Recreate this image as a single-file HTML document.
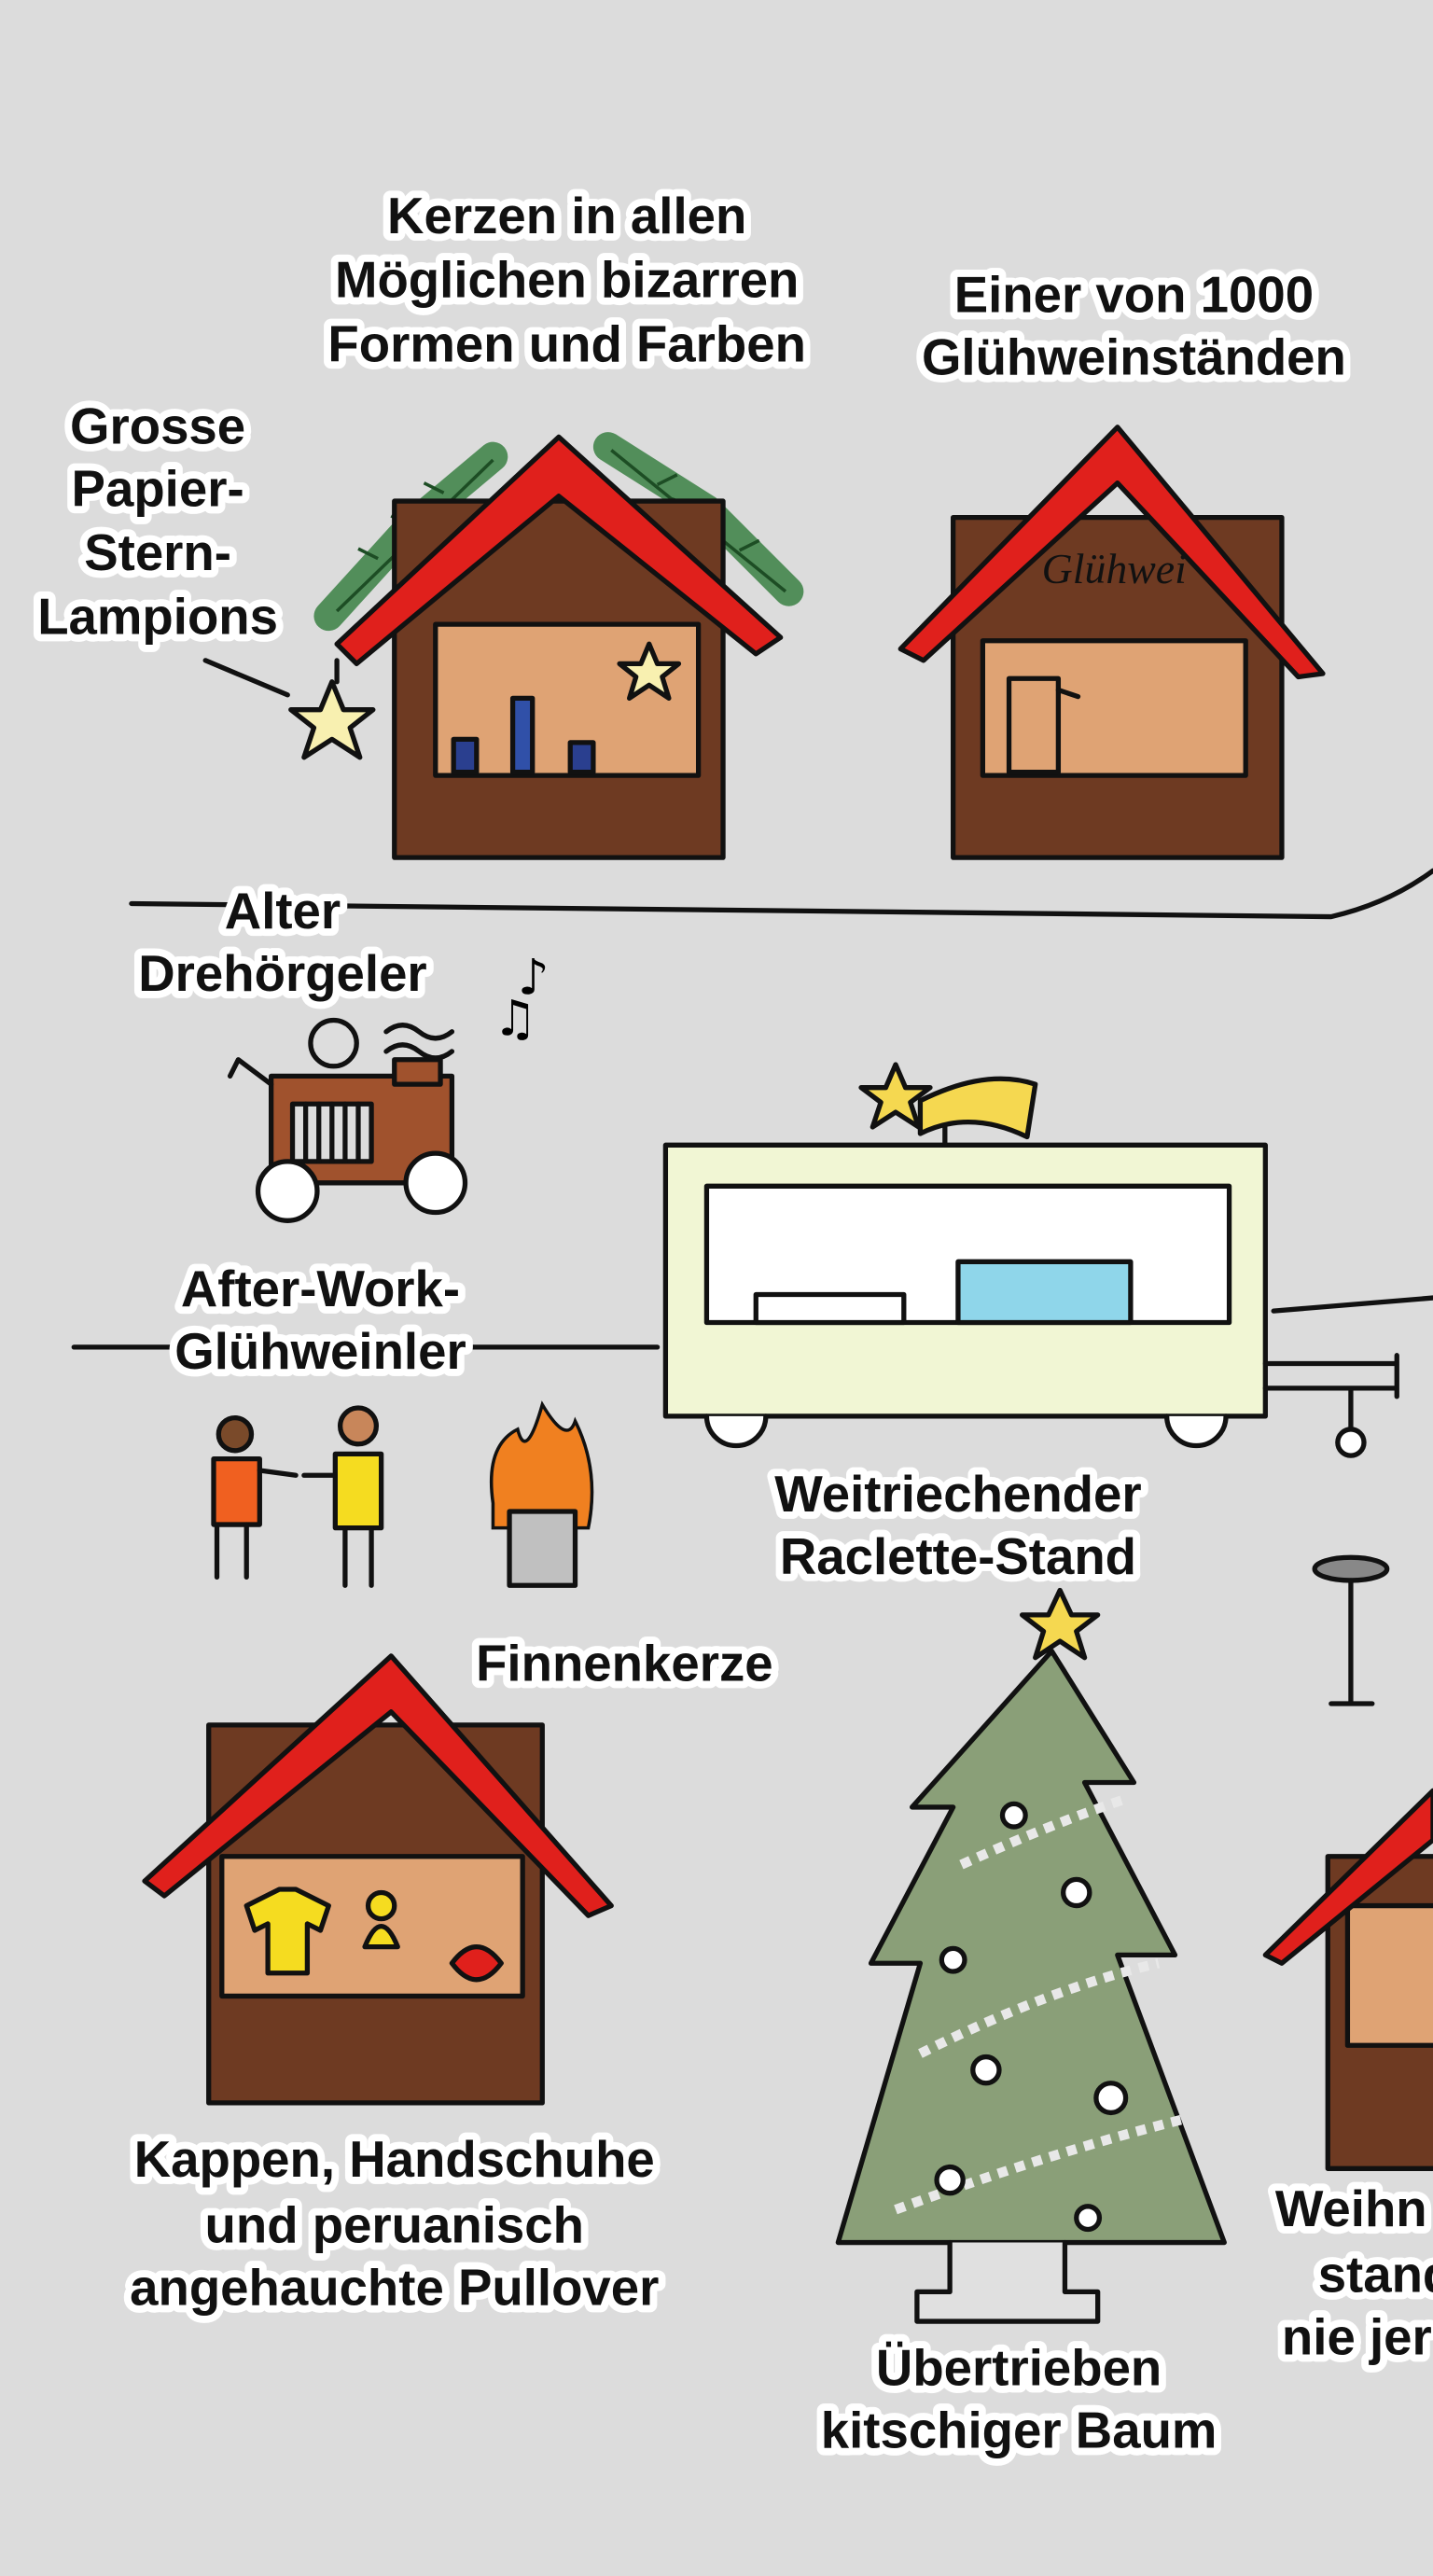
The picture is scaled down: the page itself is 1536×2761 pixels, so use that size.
<!DOCTYPE html>
<html><head><meta charset="utf-8"><style>
html,body{margin:0;padding:0;background:#dcdcdc;}
svg{display:block;}
.t{font-family:"Liberation Sans","DejaVu Sans",sans-serif;font-weight:bold;font-size:31px;fill:#111;text-anchor:middle;stroke:#fff;stroke-width:9px;paint-order:stroke;stroke-linejoin:round;}
.o{stroke:#111;stroke-width:3;stroke-linejoin:round;stroke-linecap:round;}
</style></head><body>
<svg width="1536" height="2761" viewBox="0 0 872 1568" preserveAspectRatio="none" xmlns="http://www.w3.org/2000/svg">
<rect width="872" height="1568" fill="#dcdcdc"/>
<!-- ground lines -->
<path class="o" d="M80 550 L810 558 Q845 550 872 530" fill="none" stroke-width="2.5"/>
<path class="o" d="M45 820 L400 820" fill="none" stroke-width="2.5"/>
<path class="o" d="M775 798 L872 790" fill="none" stroke-width="2.5"/>
<!-- House 1 -->
<path d="M200 375 L250 320 L300 278 M370 272 L430 310 L480 360" stroke="#2f7a3a" stroke-width="18" fill="none" opacity="0.8" stroke-linecap="round"/>
<g stroke="#1d4d24" stroke-width="2" fill="none">
<path d="M205 372 L300 280 M230 340 l-12 -6 M250 320 l-12 -6 M270 300 l-12 -6 M240 330 l6 12 M262 310 l6 12"/>
<path d="M372 274 L478 360 M400 295 l12 -6 M425 315 l12 -6 M450 335 l12 -6 M410 303 l-4 12 M440 328 l-4 12"/>
</g>
<rect class="o" x="240" y="305" width="200" height="217" fill="#6e3a22"/>
<rect class="o" x="265" y="380" width="160" height="92" fill="#dfa374"/>
<path class="o" d="M205 392 L340 266 L475 388 L460 398 L340 302 L217 404 Z" fill="#e0201c"/>
<rect class="o" x="276" y="450" width="14" height="20" fill="#2a3f8f"/>
<rect class="o" x="312" y="425" width="12" height="45" fill="#3050a8"/>
<rect class="o" x="347" y="452" width="14" height="18" fill="#2a3f8f"/>
<path class="o" d="M395 392 l5 12 13 0 -10 8 4 13 -12 -8 -12 8 4 -13 -10 -8 13 0z" fill="#f8f0b0"/>
<path class="o" d="M205 402 L205 415" fill="none"/>
<path class="o" d="M202 415 l7 17 18 0 -14 11 6 18 -17 -11 -17 11 6 -18 -14 -11 18 0z" fill="#f8f0b0"/>
<path class="o" d="M125 402 L175 423" stroke-width="4" fill="none"/>
<!-- House 2 -->
<rect class="o" x="580" y="315" width="200" height="207" fill="#6e3a22"/>
<rect class="o" x="598" y="390" width="160" height="82" fill="#dfa374"/>
<rect class="o" x="614" y="413" width="30" height="57" fill="#dfa374"/>
<path class="o" d="M644 420 l12 4" fill="none"/>
<path class="o" d="M548 395 L680 260 L805 410 L790 412 L680 294 L562 402 Z" fill="#e0201c"/>
<text x="678" y="355" font-family="Liberation Serif,serif" font-style="italic" font-size="26" fill="#111" text-anchor="middle">Glühwei</text>
<!-- Organ -->
<circle class="o" cx="203" cy="635" r="14" fill="#ddd"/>
<rect class="o" x="165" y="655" width="110" height="65" fill="#a0522d"/>
<rect class="o" x="240" y="645" width="28" height="15" fill="#a0522d"/>
<rect class="o" x="178" y="672" width="48" height="35" fill="#ddd"/>
<path class="o" d="M186 672v35M194 672v35M202 672v35M210 672v35M218 672v35" fill="none" stroke-width="2"/>
<path class="o" d="M165 660 L145 645 L140 655" fill="none"/>
<circle class="o" cx="175" cy="725" r="18" fill="#fff"/><circle class="o" cx="265" cy="720" r="18" fill="#fff"/>
<path class="o" d="M235 628 q10 -8 20 0 t20 0 M235 640 q10 -8 20 0 t20 0" fill="none" stroke-width="2"/>
<text x="315" y="605" font-size="30" font-family="DejaVu Sans">♪</text><text x="300" y="630" font-size="30" font-family="DejaVu Sans">♫</text>
<!-- Raclette trailer -->
<rect class="o" x="405" y="697" width="365" height="165" fill="#f1f6d4"/>
<rect class="o" x="430" y="722" width="318" height="83" fill="#fff"/>
<rect class="o" x="583" y="768" width="105" height="37" fill="#8fd6ea"/>
<rect class="o" x="460" y="788" width="90" height="17" fill="#fff"/>
<path class="o" d="M770 830 L850 830 M770 845 L850 845 M850 825 v25 M822 845 v25" fill="none"/>
<circle class="o" cx="822" cy="878" r="8" fill="#fff"/>
<path class="o" d="M430 862 a18 18 0 0 0 36 0 M710 862 a18 18 0 0 0 36 0" fill="#fff"/>
<path class="o" d="M575 697 v-20" fill="none"/>
<path class="o" d="M560 670 Q600 650 630 660 L625 692 Q590 675 560 690 Z" fill="#f5d850"/>
<path class="o" d="M545 648 l6 14 15 0 -12 9 5 15 -14 -9 -14 9 5 -15 -12 -9 15 0z" fill="#f5d850"/>
<!-- People -->
<circle class="o" cx="143" cy="873" r="10" fill="#7a4a2a"/>
<path class="o" d="M130 888 h28 v40 h-28z" fill="#f06020"/>
<path class="o" d="M132 928 v32 M150 928 v32" stroke="#60c0d8" stroke-width="8" fill="none"/>
<path class="o" d="M158 895 L180 898" fill="none"/>
<circle class="o" cx="218" cy="868" r="11" fill="#c8865a"/>
<path class="o" d="M204 885 h28 v45 h-28z" fill="#f5dc20"/>
<path class="o" d="M210 930 v35 M226 930 v35" stroke="#60c0d8" stroke-width="8" fill="none"/>
<path class="o" d="M204 898 L185 898" fill="none"/>
<!-- Fire -->
<path d="M300 915 Q295 880 315 870 Q320 890 330 855 Q345 880 350 865 Q365 895 358 930 L300 930Z" fill="#f08020" stroke="#111" stroke-width="2"/>
<rect class="o" x="310" y="920" width="40" height="45" fill="#c0c0c0"/>
<!-- House 3 -->
<rect class="o" x="127" y="1050" width="203" height="230" fill="#6e3a22"/>
<rect class="o" x="135" y="1130" width="183" height="85" fill="#dfa374"/>
<path class="o" d="M150 1160 l20 -10 h10 l20 10 -5 15 -8 -4 v30 h-24 v-30 l-8 4z" fill="#f5dc20"/>
<circle class="o" cx="232" cy="1160" r="8" fill="#f5dc20"/><path class="o" d="M222 1185 q10 -25 20 0 z" fill="#f5dc20"/>
<path class="o" d="M275 1195 q15 -20 30 0 q-15 20 -30 0z" fill="#e0201c"/>
<path class="o" d="M88 1145 L238 1008 L372 1160 L358 1166 L238 1042 L100 1154 Z" fill="#e0201c"/>
<!-- Tree -->
<path class="o" d="M640 1005 L690 1085 L660 1085 L715 1190 L680 1190 L745 1365 L510 1365 L560 1195 L530 1195 L580 1100 L555 1100 Z" fill="#8a9f78"/>
<path d="M585 1135 Q640 1110 685 1095 M560 1250 Q640 1210 705 1195 M545 1345 Q640 1310 720 1290" stroke="#e8e8e8" stroke-width="6" fill="none" stroke-dasharray="6 5"/>
<g class="o" fill="#fff" stroke-width="2.5"><circle cx="617" cy="1105" r="7"/><circle cx="655" cy="1152" r="8"/><circle cx="580" cy="1193" r="7"/><circle cx="600" cy="1260" r="8"/><circle cx="676" cy="1277" r="9"/><circle cx="578" cy="1327" r="8"/><circle cx="662" cy="1350" r="7"/></g>
<path class="o" d="M578 1365 v30 h-20 v18 h110 v-18 h-20 v-30" fill="#e0e0e0"/>
<path class="o" d="M645 968 l7 15 16 0 -13 10 5 16 -15 -10 -15 10 5 -16 -13 -10 16 0z" fill="#f5d850"/>
<!-- Table -->
<ellipse class="o" cx="822" cy="955" rx="22" ry="7" fill="#888"/>
<path class="o" d="M822 962 v75 M810 1037 h25" fill="none"/>
<!-- House 4 partial -->
<rect class="o" x="808" y="1130" width="70" height="190" fill="#6e3a22"/>
<rect class="o" x="820" y="1160" width="60" height="85" fill="#dfa374"/>
<path class="o" d="M770 1190 L872 1090 L872 1120 L780 1195Z" fill="#e0201c"/>
<!-- Labels -->
<g class="t">
<text x="345" y="142">Kerzen in allen</text><text x="345" y="181">Möglichen bizarren</text><text x="345" y="220">Formen und Farben</text>
<text x="690" y="190">Einer von 1000</text><text x="690" y="228">Glühweinständen</text>
<text x="96" y="270">Grosse</text><text x="96" y="308">Papier-</text><text x="96" y="347">Stern-</text><text x="96" y="386">Lampions</text>
<text x="172" y="565">Alter</text><text x="172" y="603">Drehörgeler</text>
<text x="195" y="795">After-Work-</text><text x="195" y="833">Glühweinler</text>
<text x="583" y="920">Weitriechender</text><text x="583" y="958">Raclette-Stand</text>
<text x="380" y="1023">Finnenkerze</text>
<text x="240" y="1325">Kappen, Handschuhe</text><text x="240" y="1365">und peruanisch</text><text x="240" y="1403">angehauchte Pullover</text>
<text x="620" y="1452">Übertrieben</text><text x="620" y="1490">kitschiger Baum</text>
<text x="776" y="1355" style="text-anchor:start">Weihn</text><text x="802" y="1395" style="text-anchor:start">stand</text><text x="780" y="1433" style="text-anchor:start">nie jer</text>
</g>
</svg>
</body></html>
